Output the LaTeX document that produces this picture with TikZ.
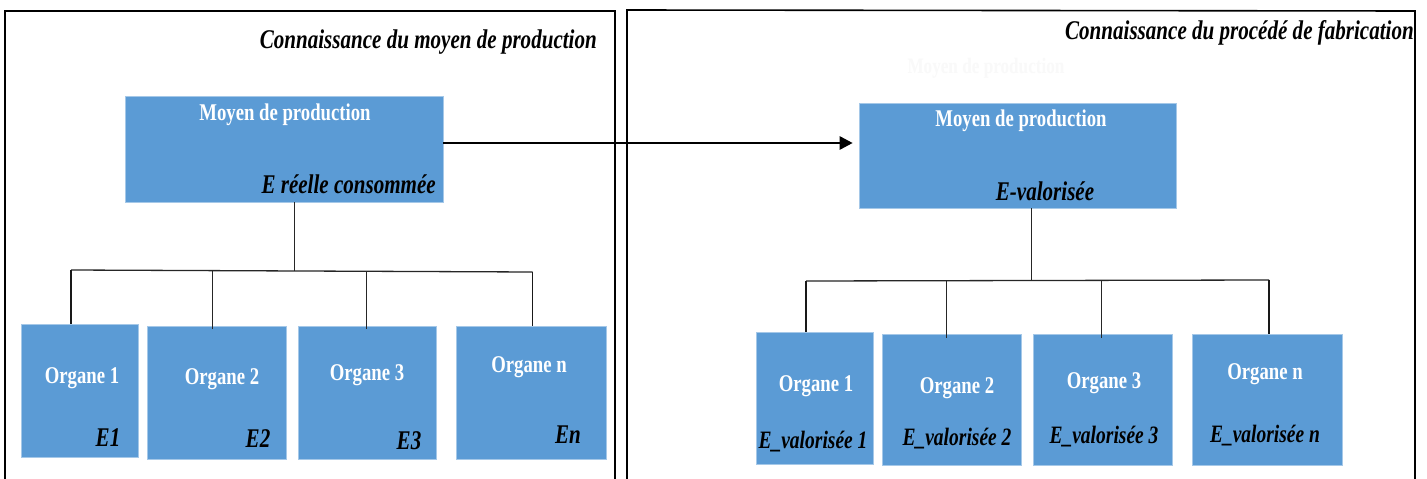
\documentclass[tikz,border=0pt]{standalone}
\usepackage{fontspec}
\setmainfont{Liberation Serif}
\newfontfamily\cf[FakeStretch=0.78]{Liberation Serif}
\usetikzlibrary{arrows.meta}
\definecolor{boxblue}{HTML}{5B9BD5}
\begin{document}
\begin{tikzpicture}[x=1pt,y=-1pt,
  blk/.style={fill=boxblue, draw=boxblue!55!white, line width=0.6pt, inner sep=0pt},
  wt/.style={text=white, font=\cf\bfseries\fontsize{24}{27}\selectfont, inner sep=0pt},
  wtb/.style={text=white, font=\cf\bfseries\fontsize{24}{27}\selectfont, inner sep=0pt},
  bt/.style={text=black, font=\cf\bfseries\itshape\fontsize{27}{30}\selectfont, inner sep=0pt},
  btv/.style={text=black, font=\cf\bfseries\itshape\fontsize{25}{28}\selectfont, inner sep=0pt},
  ttl/.style={text=black, font=\cf\bfseries\itshape\fontsize{27}{30}\selectfont, inner sep=0pt, anchor=east},
  frame/.style={line width=1.6pt, black},
  thin/.style={line width=0.9pt, black!85},
  thick/.style={line width=1.6pt, black!90}]
\useasboundingbox (0,0) rectangle (1427,479);
\fill[white] (0,0) rectangle (1427,479);

% frames
\draw[frame] (5,479) -- (5,11) -- (615,11) -- (615,479);
\draw[frame] (627,479) -- (627,10) -- (1415,11) -- (1415,479);

% titles
\node[ttl] (t1) at (597,42) {Connaissance du moyen de production};
\node[ttl] (t2) at (1414,33) {Connaissance du procédé de fabrication};
\node[text=gray!5, font=\cf\bfseries\fontsize{22}{26}\selectfont, inner sep=0pt] (ghost) at (986,68) {Moyen de production};

% main boxes
\node[blk, minimum width=318pt, minimum height=106pt] (lp) at (284,149) {};
\node[blk, minimum width=317pt, minimum height=105pt] (rp) at (1017.5,155.5) {};
\node[wtb] (lpt) at (285,115) {Moyen de production};
\node[bt, anchor=east] (lpe) at (436,184) {E réelle consommée};
\node[wtb] (rpt) at (1021,121) {Moyen de production};
\node[bt] (rpe) at (1045,191) {E-valorisée};

% arrow
\coordinate (ay) at (0,143);
\draw[-{Triangle[length=13pt,width=13pt]}, line width=2.6pt, shorten >=6pt] (lp.east |- ay) -- (rp.west |- ay);

% left organes
\node[blk, minimum width=117pt, minimum height=133pt] (lo1) at (80,390.5) {};
\node[blk, minimum width=139pt, minimum height=133pt] (lo2) at (216.5,392.5) {};
\node[blk, minimum width=138pt, minimum height=133pt] (lo3) at (367,392.5) {};
\node[blk, minimum width=150pt, minimum height=133pt] (lon) at (531,392.5) {};
\node[wt] (lo1t) at (82,378) {Organe 1};
\node[wt] (lo2t) at (222,379) {Organe 2};
\node[wt] (lo3t) at (367,375) {Organe 3};
\node[wt] (lont) at (529,367) {Organe n};
\node[bt] (lo1e) at (108,438) {E1};
\node[bt] (lo2e) at (258,439) {E2};
\node[bt] (lo3e) at (409,441) {E3};
\node[bt] (lone) at (568,435) {En};

% left tree
\coordinate (ls) at (294,271);
\coordinate (lb1) at (71,270);
\coordinate (lb2) at (212,271);
\coordinate (lb3) at (366,271);
\coordinate (lb4) at (532.5,272);
\draw[thin] (ls |- lp.south) -- (ls);
\draw[thin, line width=1.3pt] (lb1) -- (lb4);
\draw[thick] (lb1) -- (lb1 |- lo1.north);
\draw[thin] (lb2) -- ([yshift=-3pt]lb2 |- lo2.north);
\draw[thin] (lb3) -- ([yshift=-3pt]lb3 |- lo3.north);
\draw[thick] (lb4) -- (lb4 |- lon.north);

% right organes
\node[blk, minimum width=117pt, minimum height=132pt] (ro1) at (814.5,398) {};
\node[blk, minimum width=139pt, minimum height=131pt] (ro2) at (951.5,399.5) {};
\node[blk, minimum width=139pt, minimum height=131pt] (ro3) at (1102.5,399.5) {};
\node[blk, minimum width=150pt, minimum height=131pt] (ron) at (1267,399.5) {};
\node[wt] (ro1t) at (816,386) {Organe 1};
\node[wt] (ro2t) at (957,388) {Organe 2};
\node[wt] (ro3t) at (1104,383) {Organe 3};
\node[wt] (ront) at (1265,374) {Organe n};
\node[btv] (ro1e) at (813,442) {E\_valorisée 1};
\node[btv] (ro2e) at (957,439) {E\_valorisée 2};
\node[btv] (ro3e) at (1104,437) {E\_valorisée 3};
\node[btv] (rone) at (1265,436) {E\_valorisée n};

% right tree
\coordinate (rs) at (1031,281);
\coordinate (rb1) at (806,281);
\coordinate (rb2) at (946.5,281);
\coordinate (rb3) at (1101,281);
\coordinate (rb4) at (1269,280);
\draw[thin] (rs |- rp.south) -- (rs);
\draw[thin, line width=1.3pt] (rb1) -- (rb4);
\draw[thick] (rb1) -- (rb1 |- ro1.north);
\draw[thin] (rb2) -- ([yshift=-4pt]rb2 |- ro2.north);
\draw[thin] (rb3) -- ([yshift=-4pt]rb3 |- ro3.north);
\draw[thick] (rb4) -- (rb4 |- ron.north);
\end{tikzpicture}
\end{document}
